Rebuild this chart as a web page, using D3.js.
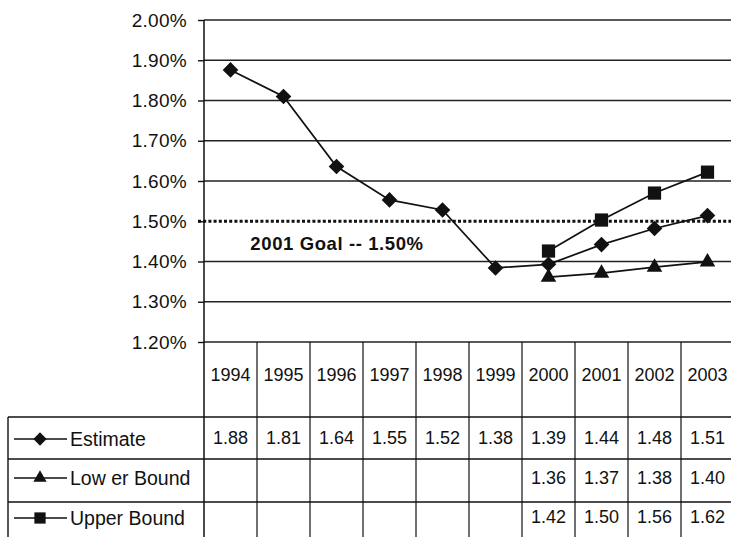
<!DOCTYPE html>
<html>
<head>
<meta charset="utf-8">
<script src="https://cdn.jsdelivr.net/npm/d3@7/dist/d3.min.js"></script>
<style>
  html, body { margin: 0; padding: 0; background: #fff; }
  svg { display: block; font-family: "Liberation Sans", Arial, sans-serif; }
</style>
</head>
<body>
<svg id="chart" width="731" height="537"></svg>
<script>
// ---- data ----
const years = ["1994","1995","1996","1997","1998","1999","2000","2001","2002","2003"];
const estimate   = [1.876, 1.810, 1.636, 1.553, 1.528, 1.384, 1.393, 1.442, 1.482, 1.514];
const lowerBound = [null, null, null, null, null, null, 1.361, 1.371, 1.386, 1.399];
const upperBound = [null, null, null, null, null, null, 1.426, 1.503, 1.570, 1.622];
const estimateLabels = ["1.88","1.81","1.64","1.55","1.52","1.38","1.39","1.44","1.48","1.51"];
const lowerLabels    = ["","","","","","","1.36","1.37","1.38","1.40"];
const upperLabels    = ["","","","","","","1.42","1.50","1.56","1.62"];
const seriesNames = ["Estimate", "Low er Bound", "Upper Bound"];
const yTicks = [1.2, 1.3, 1.4, 1.5, 1.6, 1.7, 1.8, 1.9, 2.0];
const goalValue = 1.5;
const goalLabel = "2001 Goal -- 1.50%";

// ---- layout ----
const svg = d3.select("#chart");
const ink = "#111";
const x = d3.scaleBand().domain(years).range([204, 734]);
const y = d3.scaleLinear().domain([1.2, 2.0]).range([342, 20]);
const plotRight = 731;
const tableLeft = 8;
const rowTops = [342, 417, 459, 502, 541];

// gridlines
svg.append("g").selectAll("line")
  .data(yTicks.filter(v => v !== goalValue))
  .join("line")
  .attr("x1", 204).attr("x2", plotRight)
  .attr("y1", d => y(d)).attr("y2", d => y(d))
  .attr("stroke", "#222").attr("stroke-width", 1.6);

// y axis
const yAxis = d3.axisLeft(y).tickValues(yTicks)
  .tickFormat(d => d.toFixed(2) + "%").tickSize(6).tickPadding(11);
const ga = svg.append("g").attr("transform", "translate(204,0)").call(yAxis);
ga.select(".domain").remove();
ga.selectAll(".tick line").attr("stroke", ink).attr("stroke-width", 1.4);
ga.selectAll(".tick text").attr("fill", ink)
  .style("font-size", "19px").style("font-family", "Liberation Sans, Arial, sans-serif")
  .attr("letter-spacing", "0.3");
svg.append("line").attr("x1", 204).attr("x2", 204).attr("y1", y(2.0)).attr("y2", 537)
  .attr("stroke", ink).attr("stroke-width", 1.5);

// goal line
svg.append("line")
  .attr("x1", 198).attr("x2", plotRight)
  .attr("y1", y(goalValue)).attr("y2", y(goalValue))
  .attr("stroke", ink).attr("stroke-width", 3.2)
  .attr("stroke-dasharray", "3,2.2");
svg.append("text")
  .attr("x", 337).attr("y", y(goalValue) + 29)
  .attr("text-anchor", "middle")
  .attr("font-weight", "bold").attr("font-size", 18.5).attr("letter-spacing", "0.6")
  .attr("fill", ink).text(goalLabel);

// ---- series ----
const cx = d => x(d) + x.bandwidth() / 2;
const line = d3.line().defined(d => d.v != null).x(d => cx(d.year)).y(d => y(d.v));
const mk = arr => years.map((yr, i) => ({ year: yr, v: arr[i] }));
const series = [
  { name: seriesNames[0], data: mk(estimate), shape: d3.symbolDiamond, size: 120 },
  { name: seriesNames[1], data: mk(lowerBound), shape: d3.symbolTriangle, size: 105 },
  { name: seriesNames[2], data: mk(upperBound), shape: d3.symbolSquare, size: 175 }
];
const diamondPath = r => `M0,${-r}L${r},0L0,${r}L${-r},0Z`;
function marker(g, s, scale) {
  if (s.shape === d3.symbolDiamond) {
    g.attr("d", diamondPath(7.8 * scale));
  } else {
    g.attr("d", d3.symbol(s.shape, s.size * scale * scale)());
  }
}
series.forEach(s => {
  svg.append("path").datum(s.data).attr("d", line)
    .attr("fill", "none").attr("stroke", ink).attr("stroke-width", 1.7);
  svg.append("g").selectAll("path").data(s.data.filter(d => d.v != null)).join("path")
    .attr("transform", d => `translate(${cx(d.year)},${y(d.v)})`)
    .attr("fill", ink)
    .each(function () { marker(d3.select(this), s, 1); });
});

// ---- data table ----
const tg = svg.append("g");
tg.selectAll("line.h").data(rowTops.slice(1, 4)).join("line")
  .attr("x1", tableLeft).attr("x2", plotRight)
  .attr("y1", d => d).attr("y2", d => d)
  .attr("stroke", ink).attr("stroke-width", 1.4);
tg.append("line").attr("x1", tableLeft).attr("x2", tableLeft)
  .attr("y1", rowTops[1]).attr("y2", 537).attr("stroke", ink).attr("stroke-width", 1.4);
tg.selectAll("line.v").data(years.slice(1)).join("line")
  .attr("x1", d => x(d)).attr("x2", d => x(d))
  .attr("y1", rowTops[0]).attr("y2", 537)
  .attr("stroke", ink).attr("stroke-width", 1.2);
tg.selectAll("text.yr").data(years).join("text")
  .attr("x", d => cx(d)).attr("y", 381)
  .attr("text-anchor", "middle").attr("font-size", 18).attr("fill", ink).text(d => d);
const tableRows = [estimateLabels, lowerLabels, upperLabels];
tableRows.forEach((labels, r) => {
  const yy = [444, 484, 523][r];
  tg.append("g").selectAll("text").data(years).join("text")
    .attr("x", d => cx(d)).attr("y", yy)
    .attr("text-anchor", "middle").attr("font-size", 18).attr("fill", ink)
    .text((d, i) => labels[i]);
  const ly = [439, 478, 518][r];
  tg.append("line").attr("x1", 14).attr("x2", 67).attr("y1", ly).attr("y2", ly)
    .attr("stroke", ink).attr("stroke-width", 1.7);
  const mp = tg.append("path").attr("transform", `translate(40,${ly})`).attr("fill", ink);
  marker(mp, series[r], 0.85);
  tg.append("text").attr("x", 70).attr("y", ly + 7)
    .attr("font-size", 19.5).attr("fill", ink).text(seriesNames[r]);
});
</script>
</body>
</html>
